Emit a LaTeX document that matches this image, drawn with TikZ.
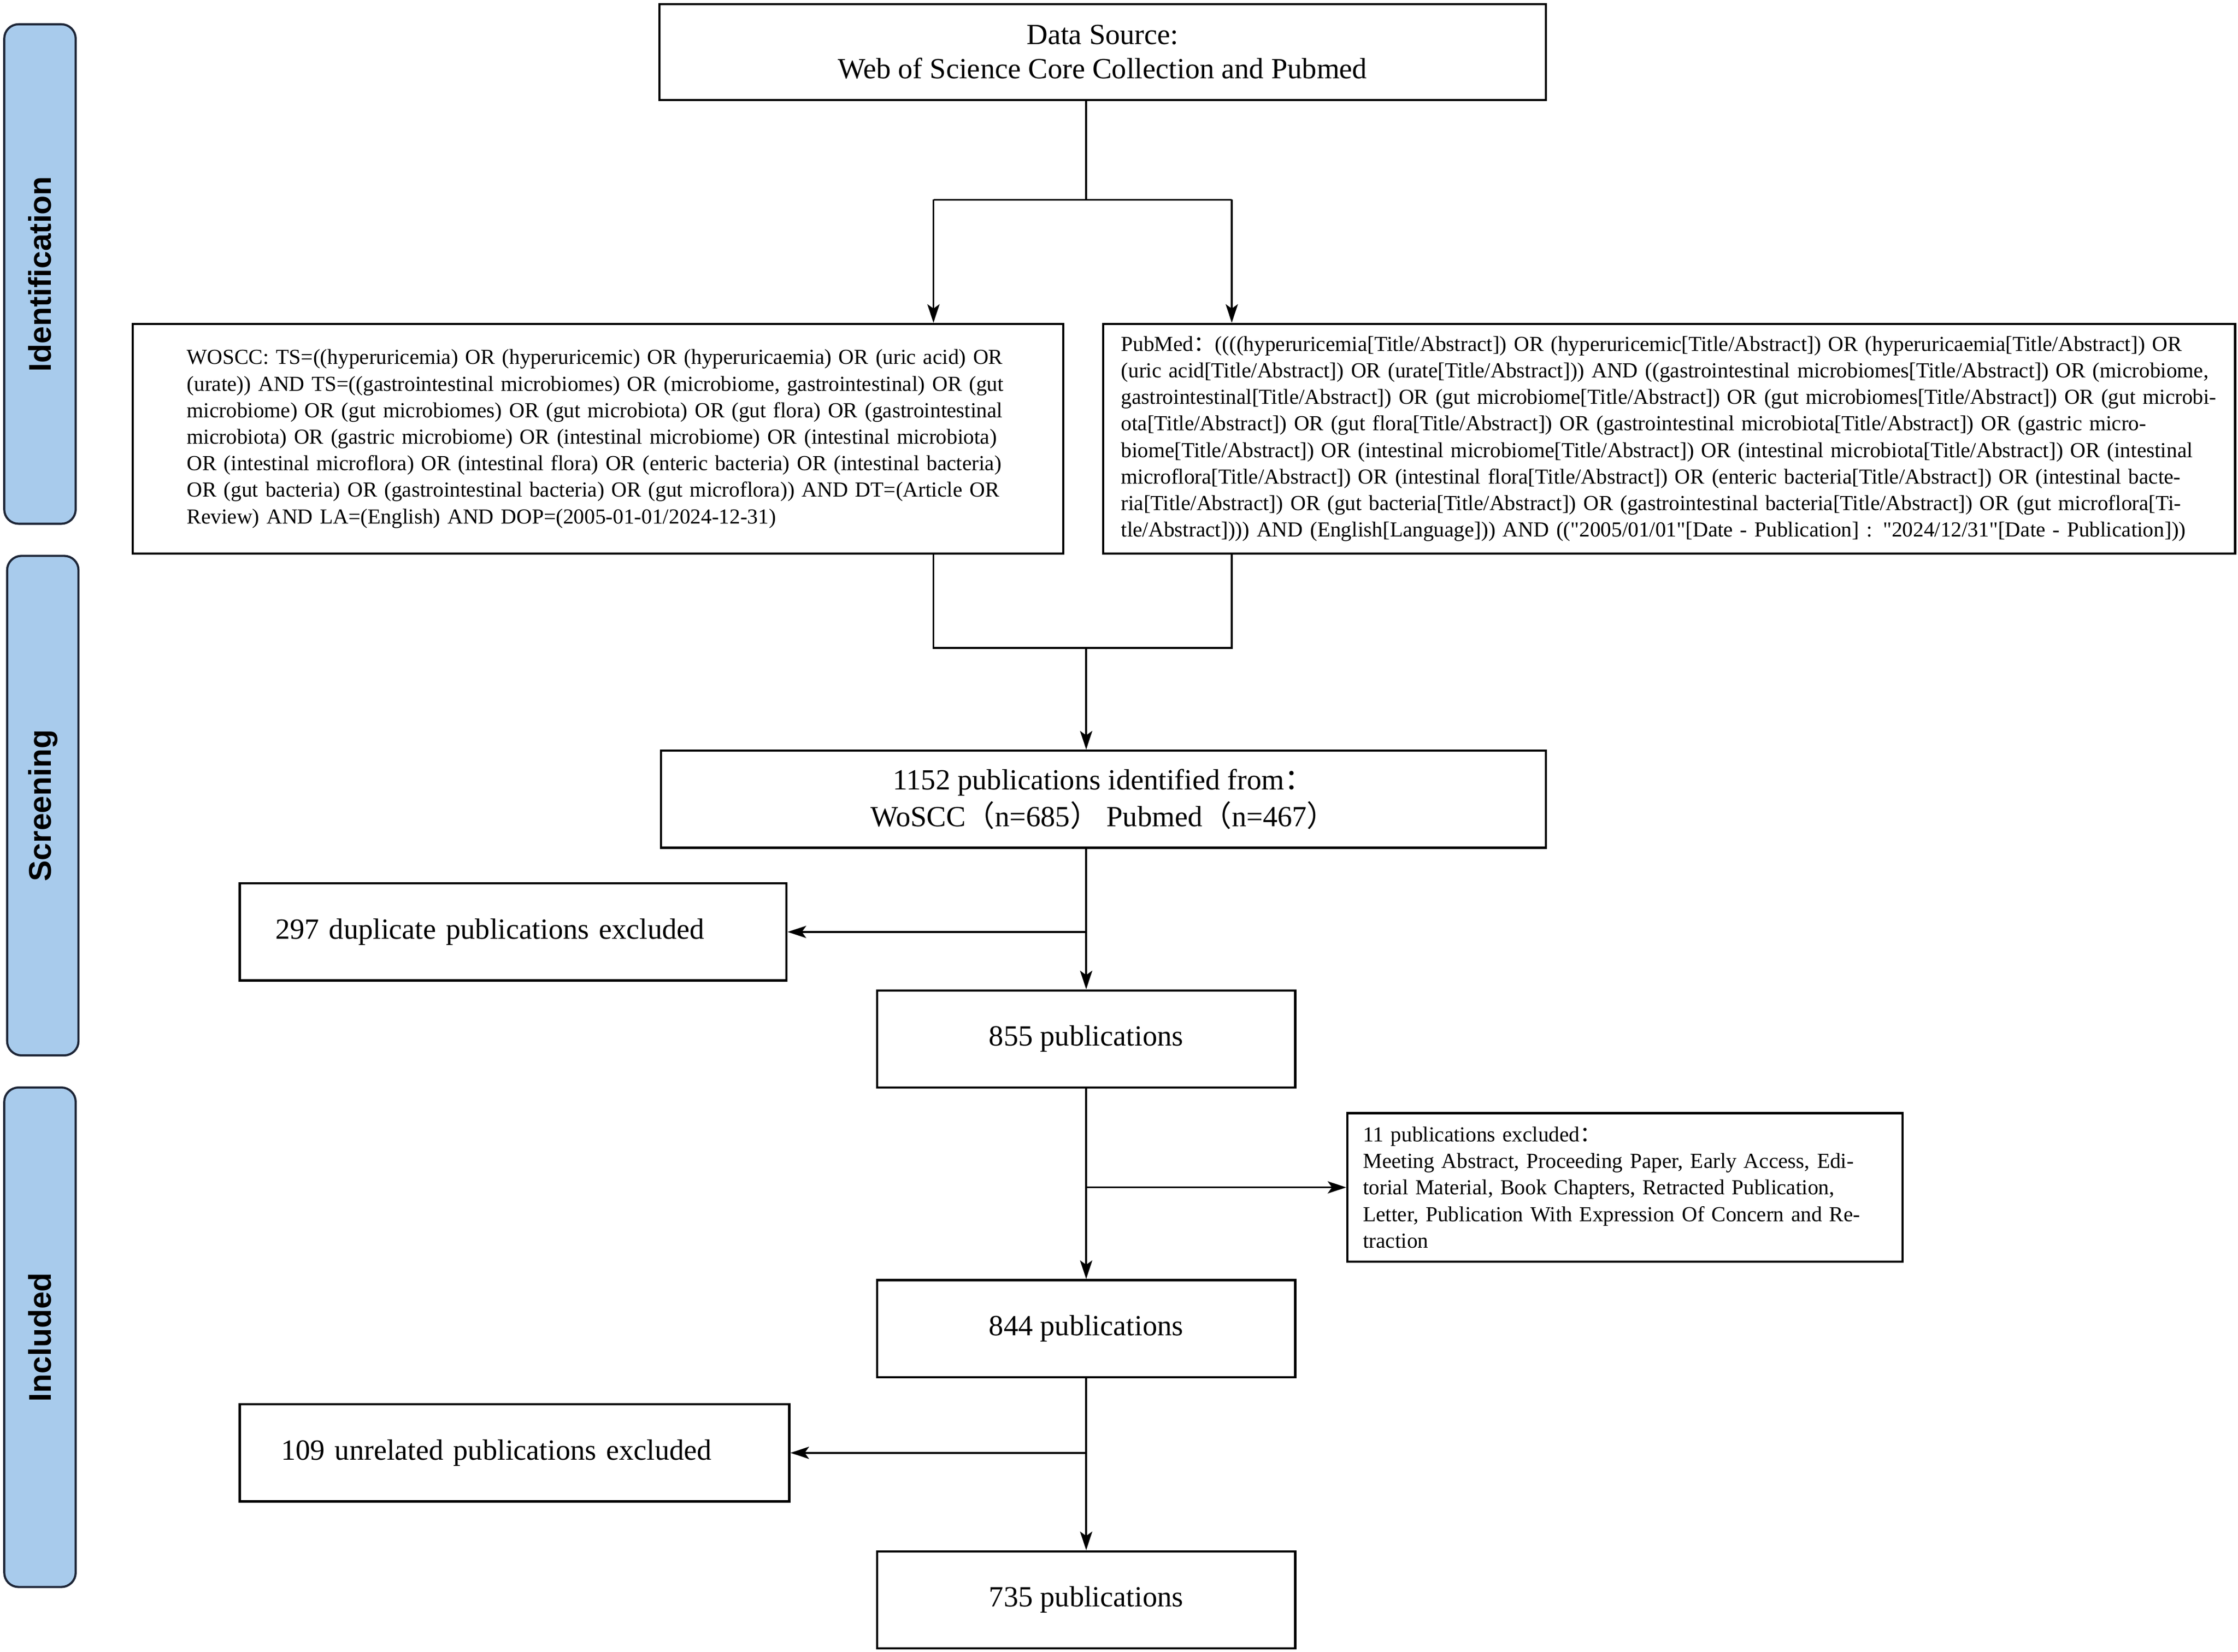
\documentclass[tikz,border=0pt]{standalone}
\usepackage{fontspec}
\setmainfont{Liberation Serif}
\newfontfamily\cjk{Noto Sans CJK SC}
\newfontfamily\stagefont{Liberation Sans}
\newfontfamily\quotefont{Liberation Serif}[Ligatures=TeXOff]
\usetikzlibrary{arrows.meta}
\definecolor{stagefill}{RGB}{168,203,236}
\definecolor{stagedraw}{RGB}{30,38,55}
\newcommand{\fillline}[1]{\makebox[\hsize][s]{#1}\\}
\newcommand{\dq}{{\quotefont\symbol{34}}}
\tikzset{
    box/.style={draw, line width=1.6pt, inner sep=0pt, align=center, minimum height=68pt, font=\fontsize{20.5}{24}\selectfont},
    query/.style={draw, line width=1.6pt, inner sep=0pt, align=left, font=\fontsize{15}{18.6}\selectfont},
    stage/.style={draw=stagedraw, fill=stagefill, line width=1.5pt, rounded corners=10pt, rotate=90, minimum width=350pt, minimum height=50pt, inner sep=0pt, font=\stagefont\bfseries\fontsize{22}{26}\selectfont},
    link/.style={line width=1.3pt},
    arr/.style={line width=1.3pt, -{Stealth[length=13pt,width=8.5pt,inset=3pt]}}
}
\begin{document}
\begin{tikzpicture}[x=1pt,y=-1pt]
\useasboundingbox (0,0) rectangle (1568,1157.2);

\node[stage] (S1) at (28,192) {Identification};
\node[stage] (S2) at (30,564.5) {Screening};
\node[stage] (S3) at (28,937) {Included};

\node[box,minimum width=621pt,minimum height=67pt] (D) at (772.5,36.5) {Data Source:\\Web of Science Core Collection and Pubmed};

\node[query,text width=576pt,minimum width=652pt,minimum height=161pt] (W) at (419,307.5) {%
\fillline{WOSCC: TS=((hyperuricemia) OR (hyperuricemic) OR (hyperuricaemia) OR (uric acid) OR}
\fillline{(urate)) AND TS=((gastrointestinal microbiomes) OR (microbiome, gastrointestinal) OR (gut}
\fillline{microbiome) OR (gut microbiomes) OR (gut microbiota) OR (gut flora) OR (gastrointestinal}
\fillline{microbiota) OR (gastric microbiome) OR (intestinal microbiome) OR (intestinal microbiota)}
\fillline{OR (intestinal microflora) OR (intestinal flora) OR (enteric bacteria) OR (intestinal bacteria)}
\fillline{OR (gut bacteria) OR (gastrointestinal bacteria) OR (gut microflora)) AND DT=(Article OR}
Review) AND LA=(English) AND DOP=(2005-01-01/2024-12-31)};

\node[query,text width=768pt,minimum width=793pt,minimum height=161pt] (P) at (1169.5,307.5) {%
\fillline{PubMed{\cjk ：}((((hyperuricemia[Title/Abstract]) OR (hyperuricemic[Title/Abstract]) OR (hyperuricaemia[Title/Abstract]) OR}
\fillline{(uric acid[Title/Abstract]) OR (urate[Title/Abstract])) AND ((gastrointestinal microbiomes[Title/Abstract]) OR (microbiome,}
\fillline{gastrointestinal[Title/Abstract]) OR (gut microbiome[Title/Abstract]) OR (gut microbiomes[Title/Abstract]) OR (gut microbi-}
\fillline{ota[Title/Abstract]) OR (gut flora[Title/Abstract]) OR (gastrointestinal microbiota[Title/Abstract]) OR (gastric micro-}
\fillline{biome[Title/Abstract]) OR (intestinal microbiome[Title/Abstract]) OR (intestinal microbiota[Title/Abstract]) OR (intestinal}
\fillline{microflora[Title/Abstract]) OR (intestinal flora[Title/Abstract]) OR (enteric bacteria[Title/Abstract]) OR (intestinal bacte-}
\fillline{ria[Title/Abstract]) OR (gut bacteria[Title/Abstract]) OR (gastrointestinal bacteria[Title/Abstract]) OR (gut microflora[Ti-}
tle/Abstract]))) AND (English[Language])) AND ((\dq 2005/01/01\dq[Date - Publication] : \dq 2024/12/31\dq[Date - Publication]))};

\node[box,minimum width=620pt,font=\fontsize{20.5}{26}\selectfont] (T) at (773,560) {1152 publications identified from{\cjk ：}\\WoSCC{\cjk （}n=685{\cjk ）} Pubmed{\cjk （}n=467{\cjk ）}};
\node[box,minimum width=383pt,text width=333pt,align=left] (X1) at (359.5,653) {297 duplicate publications excluded};
\node[box,minimum width=293pt] (N1) at (761,728) {855 publications};
\node[query,text width=367pt,minimum width=389pt,minimum height=104pt] (X2) at (1138.5,832) {11 publications excluded{\cjk ：}\\Meeting Abstract, Proceeding Paper, Early Access, Edi-\\torial Material, Book Chapters, Retracted Publication,\\Letter, Publication With Expression Of Concern and Re-\\traction};
\node[box,minimum width=293pt] (N2) at (761,931) {844 publications};
\node[box,minimum width=385pt,text width=327pt,align=left] (X3) at (360.5,1018) {109 unrelated publications excluded};
\node[box,minimum width=293pt] (N3) at (761,1121) {735 publications};

\coordinate (F) at (761,140);
\coordinate (FL) at (654,140);
\coordinate (FR) at (863,140);
\coordinate (J) at (761,454);
\coordinate (JL) at (654,454);
\coordinate (JR) at (863,454);

\draw[link] (D.south -| F) -- (F);
\draw[link] (FL) -- (FR);
\draw[arr] (FL) -- (FL |- W.north);
\draw[arr] (FR) -- (FR |- P.north);
\draw[link] (JL |- W.south) -- (JL) -- (JR) -- (JR |- P.south);
\draw[arr] (J) -- (T.north -| J);
\draw[arr] (T.south -| N1) -- (N1);
\draw[arr] (X1 -| N1) -- (X1);
\draw[arr] (N1) -- (N2);
\draw[arr] (X2 -| N1) -- (X2);
\draw[arr] (N2) -- (N3);
\draw[arr] (X3 -| N1) -- (X3);
\end{tikzpicture}
\end{document}
